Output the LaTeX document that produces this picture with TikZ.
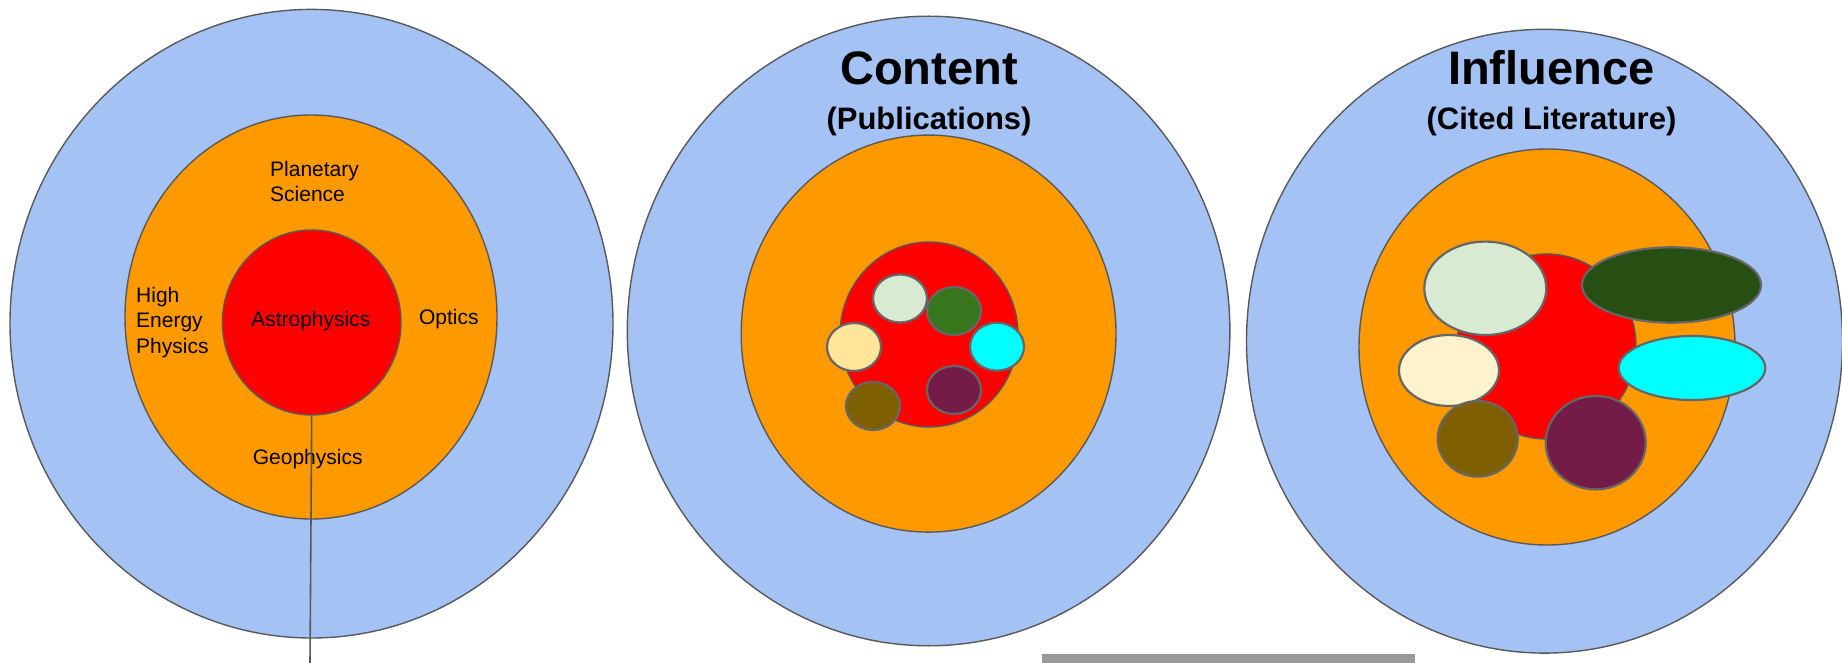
\documentclass[tikz,border=0pt]{standalone}
\usepackage{fontspec}
\setmainfont{Liberation Sans}
\usetikzlibrary{shapes.geometric}
\definecolor{skyblue}{HTML}{A4C2F4}
\definecolor{amber}{HTML}{FF9900}
\definecolor{corered}{HTML}{FF0000}
\definecolor{edgegray}{HTML}{595959}
\definecolor{blobedge}{HTML}{666666}
\definecolor{bargray}{HTML}{999999}
\definecolor{mintpale}{HTML}{D9EAD3}
\definecolor{leafgreen}{HTML}{38761D}
\definecolor{forestgreen}{HTML}{274E13}
\definecolor{aquacyan}{HTML}{00FFFF}
\definecolor{sandyellow}{HTML}{FFE599}
\definecolor{creampale}{HTML}{FFF2CC}
\definecolor{plum}{HTML}{741B47}
\definecolor{olivebrown}{HTML}{7F6000}
\begin{document}
\begin{tikzpicture}[x=1pt,y=-1pt,
  ring/.style={ellipse, draw=edgegray, line width=1.4pt, inner sep=0pt},
  blob/.style={ellipse, draw=blobedge, line width=2.2pt, inner sep=0pt},
  lbl/.style={font=\fontsize{21}{25.5}\selectfont, inner sep=0pt},
  ttl/.style={font=\bfseries\fontsize{47}{50}\selectfont, inner sep=0pt},
  subttl/.style={font=\bfseries\fontsize{31}{34}\selectfont, inner sep=0pt},
  leader/.style={draw=edgegray, line width=1.6pt}]
\useasboundingbox (0,0) rectangle (1842,663);

% ---- left panel: fields around astrophysics ----
\node[ring, fill=skyblue, minimum width=603pt, minimum height=628.6pt] (outerL) at (311.5,323.7) {};
\node[ring, fill=amber, minimum width=372pt, minimum height=404pt] (midL) at (311,317) {};
\node[ring, fill=corered, minimum width=178.6pt, minimum height=185pt] (coreL) at (311.7,322.5) {};
% multi-line labels: the base anchor sits on the last line
\node[lbl, anchor=base west, align=left] (planetary) at (270,201.7) {Planetary\\Science};
\node[lbl, anchor=base west, align=left] (hep) at (136,353.3) {High\\Energy\\Physics};
\node[lbl, anchor=base] (astro) at (310.8,326) {Astrophysics};
\node[lbl, anchor=base] (optics) at (448.8,324.3) {Optics};
\node[lbl, anchor=base] (geo) at (307.7,464) {Geophysics};
\coordinate (leadEnd) at (310,663);
\draw[leader] (coreL.south) -- (leadEnd);

% ---- middle panel: content ----
\node[ring, fill=skyblue, minimum width=602.6pt, minimum height=629.6pt] (outerC) at (928.6,331) {};
\node[ring, fill=amber, minimum width=374.8pt, minimum height=397pt] (midC) at (928.6,333.6) {};
\node[ring, fill=corered, minimum width=178pt, minimum height=185pt] (coreC) at (929,334.5) {};
\node[blob, fill=mintpale, minimum width=54pt, minimum height=48pt] (c1) at (900,298.5) {};
\node[blob, fill=leafgreen, minimum width=54pt, minimum height=48pt] (c2) at (954,311) {};
\node[blob, fill=aquacyan, minimum width=54pt, minimum height=48pt] (c3) at (997,346.7) {};
\node[blob, fill=sandyellow, minimum width=54pt, minimum height=48pt] (c4) at (854,347) {};
\node[blob, fill=plum, minimum width=54pt, minimum height=48pt] (c5) at (954,390) {};
\node[blob, fill=olivebrown, minimum width=54pt, minimum height=48pt] (c6) at (873,406) {};
\node[ttl, anchor=base] (content) at (929,85) {Content};
\node[subttl, anchor=base] (pubs) at (929,130) {(Publications)};

% ---- right panel: influence ----
\node[ring, fill=skyblue, minimum width=596pt, minimum height=623.8pt] (outerR) at (1544.5,341.2) {};
\node[ring, fill=amber, minimum width=376pt, minimum height=396pt] (midR) at (1547,347) {};
\node[ring, fill=corered, minimum width=179pt, minimum height=185pt] (coreR) at (1546.5,346.5) {};
\node[blob, fill=mintpale, minimum width=122pt, minimum height=93.4pt] (r1) at (1485.3,288.3) {};
\node[blob, fill=forestgreen, minimum width=179pt, minimum height=75.4pt] (r2) at (1671.5,285) {};
\node[blob, fill=aquacyan, minimum width=146.6pt, minimum height=64pt] (r3) at (1692,368) {};
\node[blob, fill=creampale, minimum width=100pt, minimum height=71pt] (r4) at (1449,370.5) {};
\node[blob, fill=olivebrown, minimum width=80pt, minimum height=75.6pt] (r5) at (1477.7,438.8) {};
\node[blob, fill=plum, minimum width=100pt, minimum height=93.4pt] (r6) at (1595.7,442.7) {};
\node[ttl, anchor=base] (influence) at (1551.3,85) {Influence};
\node[subttl, anchor=base] (cited) at (1551.5,130) {(Cited Literature)};

% ---- grey strip along the bottom ----
\fill[bargray] (1042,654) rectangle (1414.7,663);
\end{tikzpicture}
\end{document}
